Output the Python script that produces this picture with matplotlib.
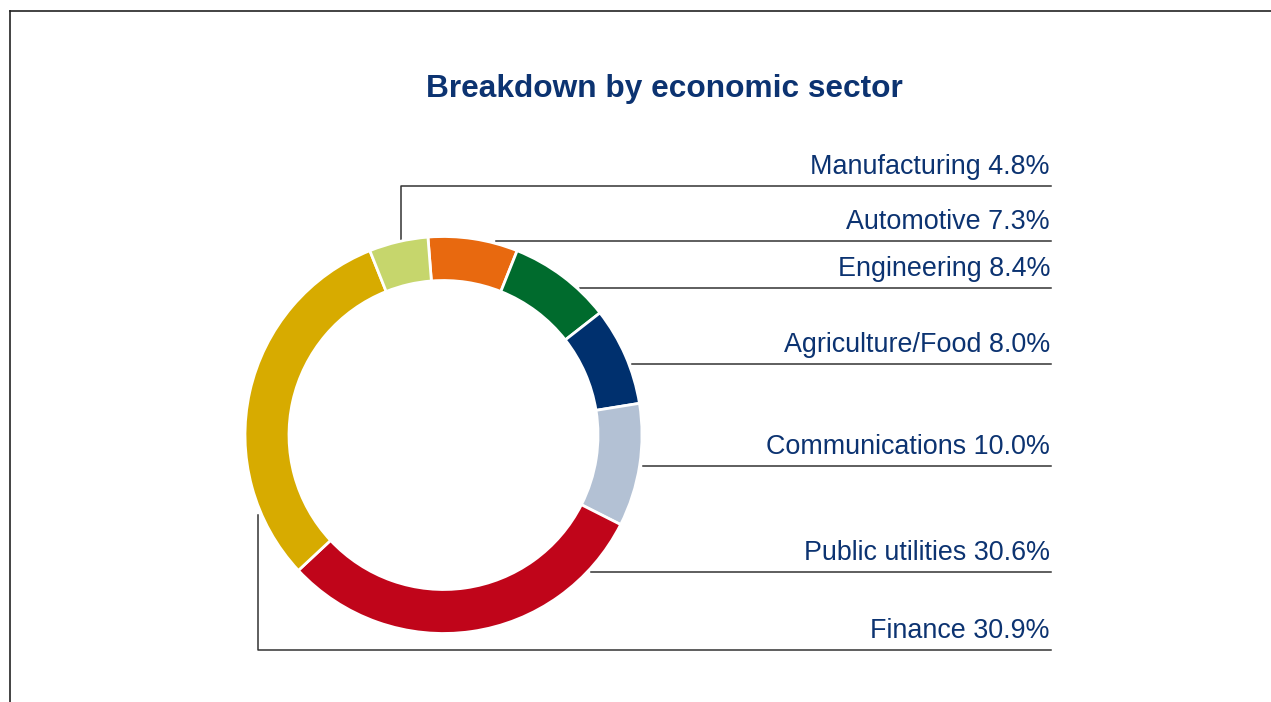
import matplotlib.pyplot as plt
import numpy as np
from matplotlib.lines import Line2D

plt.rcParams['font.family'] = ['Liberation Sans', 'DejaVu Sans']

# data (clockwise from top)
sectors = ["Automotive", "Engineering", "Agriculture/Food", "Communications",
           "Public utilities", "Finance", "Manufacturing"]
shares = [7.3, 8.4, 8.0, 10.0, 30.6, 30.9, 4.8]
colors = ["#e8690f", "#006b2d", "#00306e", "#b3c1d4", "#c0051a", "#d7ab00", "#c6d66c"]

W, H = 1271, 702
navy = "#0c3371"
cx, cy, r, ring = 443.5, H - 435, 198.5, 44

fig = plt.figure(figsize=(W / 100, H / 100), dpi=100)
ax = fig.add_axes([0, 0, 1, 1])

ax.pie(shares, colors=colors, startangle=94.5, counterclock=False,
       center=(cx, cy), radius=r, frame=True,
       wedgeprops=dict(width=ring, edgecolor='white', linewidth=2))
ax.set_xlim(0, W)
ax.set_ylim(0, H)
ax.set_aspect('equal')
ax.axis('off')

# leader lines: y of the rule under each label (pixels from top), start x
rule_y = {"Manufacturing": 186, "Automotive": 241, "Engineering": 288,
          "Agriculture/Food": 364, "Communications": 466,
          "Public utilities": 572, "Finance": 650}
rule_x0 = {"Manufacturing": 401, "Automotive": 496, "Engineering": 580,
           "Agriculture/Food": 632, "Communications": 643,
           "Public utilities": 591, "Finance": 258}
x_right = 1051
lc = "#333333"

for name, share in zip(sectors, shares):
    y = H - rule_y[name]
    x0 = rule_x0[name]
    if name == "Manufacturing":
        y_ring = cy + np.sqrt(r ** 2 - (x0 - cx) ** 2)
        ax.plot([x0, x0, x_right], [y_ring, y, y], color=lc, lw=1.1, zorder=0)
    elif name == "Finance":
        y_ring = H - 515
        ax.plot([x0, x0, x_right], [y_ring, y, y], color=lc, lw=1.1, zorder=0)
    else:
        ax.plot([x0, x_right], [y, y], color=lc, lw=1.1, zorder=0)
    ax.text(x_right - 1, y + 12, f"{name} {share:.1f}%", ha='right', va='baseline',
            fontsize=19.4, color=navy)

fig.text(664 / W, 1 - 97 / H, "Breakdown by economic sector", ha='center', va='baseline',
         fontsize=22.8, fontweight='bold', color=navy)

# frame edge (top and left)
fig.add_artist(Line2D([10 / W, 10 / W], [0, 1 - 11 / H], color='#222222', lw=1.2))
fig.add_artist(Line2D([10 / W, 1], [1 - 11 / H, 1 - 11 / H], color='#222222', lw=1.2))

fig.savefig("out.png", dpi=100, facecolor='white')
